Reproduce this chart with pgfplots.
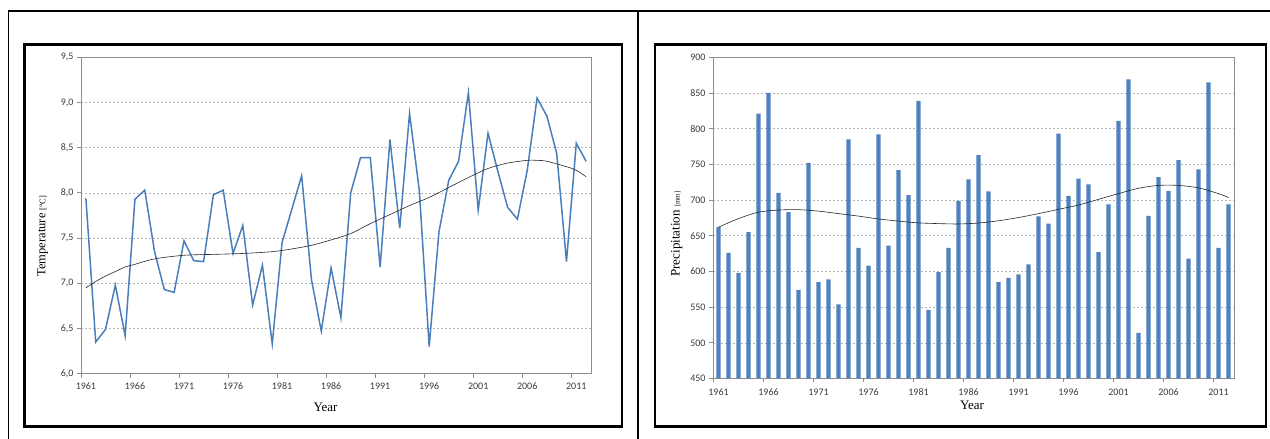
\documentclass[border=0pt]{standalone}
\usepackage{fontspec}
\setmainfont{Liberation Serif}
\newfontfamily\calibri{Carlito}
\usepackage{pgfplots}
\usepackage{pgfplotstable}
\pgfplotsset{compat=1.18}

\definecolor{tempblue}{HTML}{4A7EBB}
\definecolor{barblue}{HTML}{4F81BD}
\definecolor{axisgray}{HTML}{8C8C8C}
\definecolor{gridgray}{HTML}{B4B4B4}
\definecolor{ticktext}{HTML}{3A3A3A}

% annual mean temperature [deg C]
\pgfplotstableread{
year temp
1961 7.94
1962 6.35
1963 6.49
1964 6.98
1965 6.42
1966 7.93
1967 8.03
1968 7.35
1969 6.93
1970 6.90
1971 7.47
1972 7.25
1973 7.24
1974 7.98
1975 8.03
1976 7.33
1977 7.64
1978 6.76
1979 7.20
1980 6.33
1981 7.45
1982 7.82
1983 8.19
1984 7.04
1985 6.47
1986 7.17
1987 6.62
1988 8.00
1989 8.39
1990 8.39
1991 7.18
1992 8.59
1993 7.61
1994 8.88
1995 8.02
1996 6.30
1997 7.57
1998 8.14
1999 8.35
2000 9.11
2001 7.81
2002 8.66
2003 8.24
2004 7.84
2005 7.71
2006 8.25
2007 9.05
2008 8.85
2009 8.44
2010 7.24
2011 8.55
2012 8.35
}\temptable

% polynomial trend of the temperature series
\pgfplotstableread{
year trend
1961 6.95
1962 7.02
1963 7.08
1964 7.13
1965 7.18
1966 7.21
1968 7.27
1971 7.31
1974 7.32
1977 7.33
1980 7.35
1982 7.38
1984 7.42
1986 7.48
1988 7.55
1990 7.66
1992 7.76
1994 7.86
1996 7.95
1998 8.06
2000 8.17
2002 8.27
2004 8.33
2006 8.36
2007 8.36
2008 8.35
2010 8.29
2011 8.25
2012 8.18
}\temptrend

% annual precipitation [mm]
\pgfplotstableread{
year prec
1961 662
1962 626
1963 598
1964 655
1965 821
1966 850
1967 710
1968 683
1969 574
1970 752
1971 585
1972 589
1973 554
1974 785
1975 633
1976 608
1977 792
1978 636
1979 742
1980 707
1981 839
1982 546
1983 599
1984 633
1985 699
1986 729
1987 763
1988 712
1989 585
1990 591
1991 596
1992 610
1993 677
1994 667
1995 793
1996 706
1997 730
1998 722
1999 627
2000 694
2001 811
2002 869
2003 514
2004 678
2005 732
2006 713
2007 756
2008 618
2009 743
2010 865
2011 633
2012 694
}\prectable

% polynomial trend of the precipitation series
\pgfplotstableread{
year trend
1961 662
1963 674
1965 683
1967 686
1969 686.5
1971 684.5
1973 681
1975 677.5
1977 673.5
1979 670.5
1981 668
1983 667
1985 666.5
1987 667.8
1989 671
1991 675.5
1993 681
1995 687
1997 693
1999 701
2001 709
2003 716.5
2005 720.5
2007 720.5
2009 717
2011 709
2012 703.5
}\prectrend

\pgfplotsset{
  excelpanel/.style={
    scale only axis,
    anchor=south west,
    axis line style={axisgray, line width=0.8pt},
    tick align=outside,
    xtick pos=bottom, ytick pos=left,
    major tick length=4pt,
    tick style={axisgray, line width=0.8pt},
    ymajorgrids,
    major grid style={gridgray, line width=0.6pt, dash pattern=on 2pt off 2pt},
    tick label style={font=\calibri\fontsize{10}{12}\selectfont, text=ticktext},
    /pgf/number format/assume math mode=true,
    xtick={1960.5,1965.5,1970.5,1975.5,1980.5,1985.5,1990.5,1995.5,2000.5,2005.5,2010.5},
    xticklabels={1961,1966,1971,1976,1981,1986,1991,1996,2001,2006,2011},
  }
}

\begin{document}
\begin{tikzpicture}[x=1pt,y=1pt]
\useasboundingbox (0pt,0pt) rectangle (1270pt,439pt);

% table rules
\draw[line width=1.3pt] (8.3pt,0pt) -- (8.3pt,428pt) -- (1270pt,428pt);
\draw[line width=1.3pt] (638pt,0pt) -- (638pt,428pt);

% chart frames
\draw[line width=2.5pt] (24.3pt,394.7pt) rectangle (622pt,12.3pt);
\draw[line width=2.5pt] (655pt,394.7pt) rectangle (1266pt,12.3pt);

% temperature
\begin{axis}[excelpanel,
  at={(81pt,65.3pt)}, width=510pt, height=316.4pt,
  xmin=1960.5, xmax=2012.5, ymin=6, ymax=9.5,
  ytick={6,6.5,7,7.5,8,8.5,9,9.5},
  yticklabel style={/pgf/number format/fixed, /pgf/number format/fixed zerofill,
    /pgf/number format/precision=1, /pgf/number format/use comma},
  xticklabel style={xshift=4.9pt, yshift=-1.5pt},
]
\addplot[tempblue, line width=1.5pt, mark=none] table[x=year, y=temp] {\temptable};
\addplot[black!85, line width=0.6pt, mark=none, smooth] table[x=year, y=trend] {\temptrend};
\end{axis}

% precipitation
\begin{axis}[excelpanel,
  at={(713pt,60.5pt)}, width=521pt, height=321.2pt,
  xmin=1960.45, xmax=2012.55, ymin=450, ymax=900,
  ytick={450,500,...,900},
  xticklabel style={xshift=5pt, yshift=-3pt},
]
\addplot[ybar, bar width=4.4pt, bar shift=0pt, fill=barblue, draw=none] table[x=year, y=prec] {\prectable};
\addplot[black!85, line width=0.6pt, mark=none, smooth] table[x=year, y=trend] {\prectrend};
\end{axis}

% axis titles
\node[rotate=90, font=\fontsize{12.5}{14}\selectfont] at (42.7pt,203pt) {Temperature {\fontsize{8.5}{10}\selectfont[°C]}};
\node[font=\fontsize{13}{15}\selectfont] at (325.5pt,32pt) {Year};
\node[rotate=90, font=\fontsize{13}{15}\selectfont] at (676.7pt,205pt) {Precipitation {\fontsize{7}{8}\selectfont[mm]}};
\node[font=\fontsize{13}{15}\selectfont] at (972pt,33.5pt) {Year};
\end{tikzpicture}
\end{document}
